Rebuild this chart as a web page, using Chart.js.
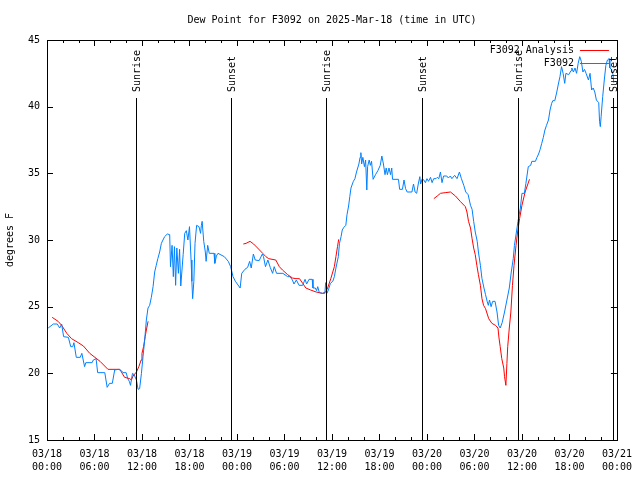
<!DOCTYPE html>
<html>
<head>
<meta charset="utf-8">
<script src="https://cdn.jsdelivr.net/npm/chart.js@4"></script>
<style>
  html, body { margin: 0; padding: 0; background: #fff; }
  canvas { display: block; }
</style>
</head>
<body>
<canvas id="chart" width="640" height="480"></canvas>
<script>
// hours since 03/18 00:00 UTC
const obsHours = [0.15, 0.8, 1.3, 1.6, 1.85, 2.1, 2.7, 3.0, 3.25, 3.4, 3.7, 4.2, 4.4, 4.75, 4.9, 5.7, 5.85, 6.2, 6.4, 7.3,
  7.6, 7.9, 8.25, 8.55, 9.0, 9.4, 9.6, 10.0, 10.2, 10.4, 10.55, 10.8, 11.0, 11.3, 11.5, 11.7, 11.93, 12.13, 12.34, 12.55,
  12.76, 12.97, 13.18, 13.4, 13.6, 13.8, 14.0, 14.23, 14.45, 14.65, 14.86, 15.2, 15.5, 15.6, 15.8, 15.96, 16.1, 16.25, 16.4, 16.6,
  16.75, 16.9, 17.2, 17.4, 17.6, 17.8, 18.0, 18.2, 18.3, 18.4, 18.55, 18.7, 18.9, 19.2, 19.4, 19.5, 19.6, 19.8, 20.0, 20.1,
  20.3, 20.5, 21.1, 21.2, 21.4, 21.6, 22.4, 22.9, 23.2, 23.5, 23.8, 24.4, 24.6, 25.0, 25.35, 25.6, 25.8, 26.07, 26.3, 26.8,
  27.2, 27.35, 27.6, 27.9, 28.2, 28.5, 28.7, 29.0, 29.8, 30.4, 30.7, 31.0, 31.2, 31.5, 31.85, 32.3, 32.6, 32.8, 33.1, 33.5,
  33.6, 33.9, 34.05, 34.2, 34.4, 34.8, 35.1, 35.2, 35.35, 35.55, 35.8, 36.1, 36.3, 36.5, 36.8, 36.95, 37.15, 37.3, 37.5, 37.75,
  37.9, 38.1, 38.25, 38.4, 38.7, 38.9, 39.1, 39.4, 39.55, 39.65, 39.75, 39.9, 40.1, 40.25, 40.4, 40.5, 40.7, 40.85, 41.0, 41.2,
  41.5, 41.8, 42.1, 42.3, 42.5, 42.7, 42.85, 43.0, 43.2, 43.4, 43.55, 43.65, 44.4, 44.55, 44.9, 45.1, 45.3, 45.5, 46.1, 46.3,
  46.5, 46.7, 46.9, 47.1, 47.2, 47.4, 47.6, 47.8, 48.0, 48.2, 48.45, 48.65, 48.85, 49.15, 49.3, 49.5, 49.7, 49.9, 50.1, 50.5,
  50.7, 50.95, 51.15, 51.5, 51.8, 52.1, 52.35, 52.65, 52.9, 53.2, 53.5, 53.7, 53.9, 54.1, 54.35, 54.5, 54.75, 54.95, 55.2, 55.4,
  55.6, 55.75, 55.9, 56.1, 56.3, 56.6, 56.85, 57.05, 57.25, 57.5, 57.8, 58.1, 58.4, 58.65, 58.9, 59.05, 59.3, 59.5, 59.8, 60.0,
  60.3, 60.5, 60.8, 61.1, 61.25, 61.7, 61.9, 62.1, 62.3, 62.5, 62.7, 62.9, 63.1, 63.35, 63.55, 63.75, 63.9, 64.15, 64.4, 64.6,
  64.8, 65.0, 65.2, 65.4, 65.55, 65.9, 66.2, 66.3, 66.5, 66.7, 66.9, 67.1, 67.3, 67.5, 67.7, 67.9, 68.1, 68.4, 68.6, 68.8,
  69.0, 69.2, 69.4, 69.7, 69.8, 69.9, 70.0, 70.2, 70.4, 70.6, 70.8, 71.0, 71.1, 71.3, 71.5, 71.6];
const obsValues = [23.4, 23.7, 23.7, 23.4, 23.7, 22.75, 22.7, 22.0, 22.0, 22.3, 21.2, 21.2, 21.5, 20.5, 20.8, 20.8, 21.0, 21.1, 20.05, 20.05,
  18.95, 19.25, 19.25, 20.25, 20.3, 20.2, 20.05, 20.05, 19.6, 19.4, 19.1, 20.0, 19.9, 19.5, 18.8, 18.85, 20.0, 21.25, 22.5, 24.0,
  24.9, 25.1, 25.7, 26.5, 27.6, 28.1, 28.6, 29.1, 29.75, 30.0, 30.25, 30.45, 30.4, 28.0, 29.6, 27.25, 29.5, 26.6, 29.4, 27.5,
  29.3, 26.55, 28.9, 30.5, 30.7, 30.0, 31.0, 28.5, 26.9, 25.6, 26.9, 29.75, 31.1, 31.0, 30.5, 31.1, 31.4, 29.9, 29.1, 28.4,
  29.6, 29.0, 29.0, 28.25, 28.8, 29.0, 28.75, 28.4, 28.0, 27.25, 26.9, 26.4, 27.5, 27.8, 27.95, 28.4, 27.9, 28.95, 28.5, 28.45,
  28.95, 28.75, 28.0, 28.5, 27.95, 27.5, 28.0, 27.5, 27.5, 27.25, 27.25, 27.0, 26.7, 27.0, 26.6, 26.6, 27.05, 26.7, 27.05, 27.05,
  26.4, 26.4, 26.2, 26.5, 26.05, 26.0, 26.0, 26.8, 26.0, 26.25, 26.75, 26.9, 27.25, 27.9, 28.75, 29.75, 30.25, 30.75, 30.95, 31.1,
  31.9, 32.55, 33.25, 33.9, 34.4, 34.6, 35.1, 35.7, 36.2, 36.55, 35.7, 36.2, 35.5, 36.0, 33.75, 35.5, 36.0, 35.6, 35.9, 34.55,
  34.9, 35.2, 35.6, 36.3, 35.7, 34.9, 35.4, 34.9, 35.4, 34.9, 35.4, 34.55, 34.55, 33.8, 33.8, 34.5, 33.85, 33.6, 33.6, 34.2,
  33.6, 33.5, 34.2, 34.75, 34.2, 34.6, 34.5, 34.3, 34.6, 34.4, 34.7, 34.3, 34.6, 34.6, 34.7, 34.6, 35.1, 34.3, 34.8, 34.8,
  34.65, 34.8, 34.6, 34.85, 34.6, 35.1, 34.6, 34.1, 33.6, 33.4, 32.6, 32.3, 31.4, 30.6, 29.9, 29.1, 28.1, 27.1, 26.4, 25.9,
  25.4, 25.1, 25.5, 25.0, 25.4, 25.4, 24.6, 23.6, 23.4, 23.8, 24.6, 25.5, 26.4, 27.6, 28.6, 29.6, 30.6, 31.4, 32.4, 33.5,
  33.5, 34.25, 35.5, 35.6, 35.9, 35.9, 36.2, 36.45, 36.8, 37.25, 37.7, 38.25, 38.6, 39.0, 39.75, 40.25, 40.45, 40.45, 41.1, 41.7,
  42.25, 43.0, 42.5, 41.75, 42.5, 42.4, 42.7, 42.9, 42.6, 42.9, 42.5, 43.25, 43.75, 43.4, 42.6, 42.8, 42.5, 42.0, 42.5, 41.25,
  41.4, 41.1, 40.5, 40.3, 38.9, 38.5, 39.25, 40.75, 42.0, 43.1, 43.5, 43.6, 42.9, 42.8, 42.4, 41.8];

// analysis runs, null breaks the line between runs
const anaHours = [0.65, 1.4, 1.85, 2.5, 3.1, 3.95, 4.6, 5.4, 6.7, 7.7, 9.2, 9.8, 10.45, 10.66, 10.87, 11.3, 11.6, 11.9, 12.0, 12.2,
  12.4, 12.55, 12.77, 13.0,
  24.8, 25.15, 25.65, 26.1, 26.6, 27.25, 27.65, 28.0, 28.9, 29.35, 29.75, 30.4, 31.0, 31.45, 31.9, 32.3, 32.7, 33.3, 34.0, 34.8,
  35.2, 35.45, 35.85, 36.3, 36.5, 36.7, 36.85, 37.0,
  48.87, 49.3, 49.7, 50.3, 50.97, 51.6, 52.2, 52.85, 53.05, 53.25, 53.5, 53.7, 53.9, 54.1, 54.3, 54.5, 54.75, 54.95, 55.15, 55.4,
  55.8, 56.2, 56.65, 56.97, 57.1, 57.25, 57.45, 57.7, 57.8, 57.97, 58.1, 58.2, 58.4, 58.6, 58.8, 59.0, 59.25, 59.45, 59.7, 60.0,
  60.4, 60.95];
const anaValues = [24.2, 23.9, 23.6, 23.0, 22.6, 22.3, 22.05, 21.5, 20.9, 20.3, 20.3, 19.7, 19.6, 19.5, 19.8, 20.1, 20.5, 21.0, 21.5, 22.0,
  22.75, 23.25, 23.9, null,
  29.7, 29.75, 29.9, 29.7, 29.4, 29.0, 28.75, 28.6, 28.5, 28.0, 27.75, 27.4, 27.15, 27.1, 27.1, 26.75, 26.4, 26.25, 26.1, 26.0,
  26.1, 26.4, 27.1, 28.0, 28.75, 29.5, 30.05, null,
  33.1, 33.3, 33.5, 33.55, 33.6, 33.3, 32.9, 32.5, 32.1, 31.4, 30.9, 30.1, 29.4, 28.9, 28.1, 27.4, 26.6, 25.6, 25.1, 24.85,
  24.1, 23.75, 23.6, 23.4, 22.65, 22.0, 21.1, 20.4, 19.75, 19.1, 20.75, 22.0, 23.4, 24.6, 26.6, 28.1, 29.6, 30.6, 31.6, 32.6,
  33.6, 34.55];

const eventHours = [11.25, 23.2, 35.3, 47.4, 59.5, 71.45];
const eventNames = ["Sunrise", "Sunset", "Sunrise", "Sunset", "Sunrise", "Sunset"];

const tickLabels = [
  ["03/18", "00:00"], ["03/18", "06:00"], ["03/18", "12:00"], ["03/18", "18:00"],
  ["03/19", "00:00"], ["03/19", "06:00"], ["03/19", "12:00"], ["03/19", "18:00"],
  ["03/20", "00:00"], ["03/20", "06:00"], ["03/20", "12:00"], ["03/20", "18:00"],
  ["03/21", "00:00"]
];
const seriesNames = ["F3092 Analysis", "F3092"];
const seriesColors = ["#ff0000", "#0080ff"];
const titleText = "Dew Point for F3092 on 2025-Mar-18 (time in UTC)";
const yTitle = "degrees F";

const FONT = "DejaVu Sans Mono";
const minorStep = 2;
const majorStep = 6;

function toPoints(xs, ys) {
  return xs.map((x, i) => ({ x: x, y: ys[i] }));
}

// gnuplot-like decorations: frame, inward ticks, sun events, legend, titles
const gnuFrame = {
  id: "gnuFrame",
  afterDatasetsDraw(chart) {
    const ctx = chart.ctx;
    const area = chart.chartArea;
    const xs = chart.scales.x;
    const ys = chart.scales.y;
    ctx.save();
    ctx.strokeStyle = "#000";
    ctx.lineWidth = 1;
    ctx.strokeRect(Math.round(area.left) + 0.5, Math.round(area.top) + 0.5,
      Math.round(area.right - area.left), Math.round(area.bottom - area.top));

    ctx.beginPath();
    for (let h = xs.min; h <= xs.max; h += minorStep) {
      const px = Math.round(xs.getPixelForValue(h)) + 0.5;
      const len = h % majorStep === 0 ? 6 : 3;
      ctx.moveTo(px, area.bottom);
      ctx.lineTo(px, area.bottom - len);
      ctx.moveTo(px, area.top);
      ctx.lineTo(px, area.top + len);
    }
    ys.ticks.forEach((t) => {
      const py = Math.round(ys.getPixelForValue(t.value)) + 0.5;
      ctx.moveTo(area.left, py);
      ctx.lineTo(area.left + 6, py);
      ctx.moveTo(area.right, py);
      ctx.lineTo(area.right - 6, py);
    });
    ctx.stroke();

    // sunrise / sunset markers
    ctx.font = "10px " + FONT;
    ctx.fillStyle = "#000";
    eventHours.forEach((h, i) => {
      const px = Math.round(xs.getPixelForValue(h)) + 0.5;
      ctx.beginPath();
      ctx.moveTo(px, area.top + 58);
      ctx.lineTo(px, area.bottom);
      ctx.stroke();
      ctx.save();
      ctx.translate(px + 1, area.top + 52);
      ctx.rotate(-Math.PI / 2);
      ctx.textAlign = "left";
      ctx.textBaseline = "middle";
      ctx.fillText(eventNames[i], 0, 0);
      ctx.restore();
    });

    // legend
    ctx.textAlign = "right";
    ctx.textBaseline = "middle";
    seriesNames.forEach((name, i) => {
      const y = area.top + 10 + i * 13;
      ctx.fillStyle = "#000";
      ctx.fillText(name, area.right - 43, y);
      ctx.strokeStyle = seriesColors[i];
      ctx.beginPath();
      ctx.moveTo(area.right - 37, Math.round(y) + 0.5);
      ctx.lineTo(area.right - 8, Math.round(y) + 0.5);
      ctx.stroke();
    });

    // title and y axis title
    ctx.fillStyle = "#000";
    ctx.textAlign = "center";
    ctx.fillText(titleText, (area.left + area.right) / 2, 20);
    ctx.save();
    ctx.translate(10, (area.top + area.bottom) / 2);
    ctx.rotate(-Math.PI / 2);
    ctx.fillText(yTitle, 0, 0);
    ctx.restore();
    ctx.restore();
  }
};

new Chart(document.getElementById("chart"), {
  type: "line",
  data: {
    datasets: [
      {
        label: seriesNames[0],
        data: toPoints(anaHours, anaValues),
        borderColor: seriesColors[0],
        borderWidth: 1,
        pointRadius: 0,
        tension: 0,
        spanGaps: false,
        order: 2
      },
      {
        label: seriesNames[1],
        data: toPoints(obsHours, obsValues),
        borderColor: seriesColors[1],
        borderWidth: 1,
        pointRadius: 0,
        tension: 0,
        order: 1
      }
    ]
  },
  options: {
    responsive: false,
    animation: false,
    devicePixelRatio: 1,
    layout: { padding: { top: 40, right: 22, left: 0, bottom: 0 } },
    plugins: {
      legend: { display: false },
      title: { display: false },
      tooltip: { enabled: false }
    },
    scales: {
      x: {
        type: "linear",
        min: 0,
        max: 72,
        afterFit: (s) => { s.height = 40; },
        grid: { display: false, drawTicks: false },
        border: { display: false },
        ticks: {
          stepSize: majorStep,
          autoSkip: false,
          maxRotation: 0,
          padding: 8,
          color: "#000",
          font: { family: FONT, size: 10, lineHeight: 1.3 },
          callback: (v) => tickLabels[Math.round(v / majorStep)]
        }
      },
      y: {
        min: 15,
        max: 45,
        afterFit: (s) => { s.width = 47; },
        grid: { display: false, drawTicks: false },
        border: { display: false },
        ticks: {
          stepSize: 5,
          padding: 7,
          color: "#000",
          font: { family: FONT, size: 10 }
        }
      }
    }
  },
  plugins: [gnuFrame]
});
</script>
</body>
</html>
